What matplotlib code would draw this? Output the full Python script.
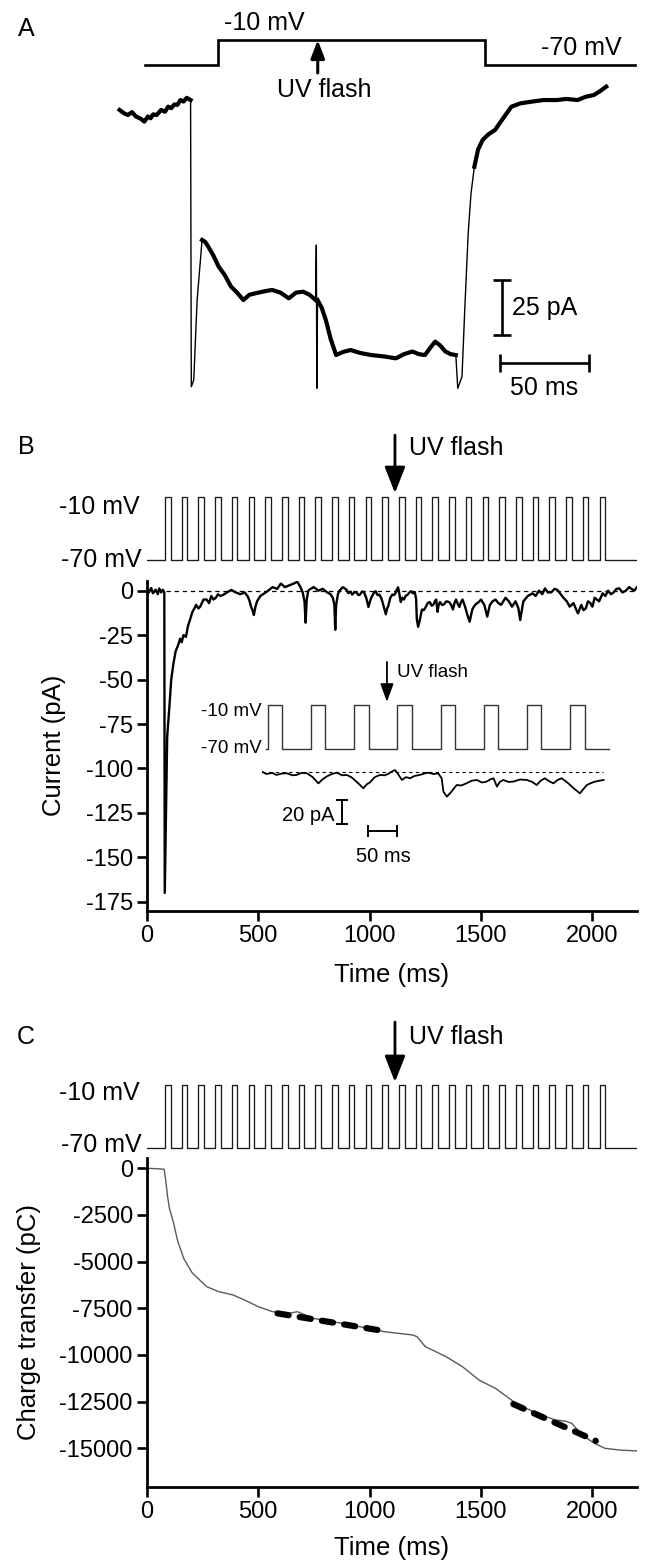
import numpy as np
import matplotlib
matplotlib.use("Agg")
import matplotlib.pyplot as plt

plt.rcParams['font.family'] = ['Liberation Sans', 'DejaVu Sans']

# ---------------- DATA ----------------
# Panel A : single depolarising step, current trace (ms, pA)
A_STEP_T = [14.5, 56.0, 207.2, 292.0]      # start, step up, step down, end (ms)
V_HOLD, V_STEP = -70, -10                   # mV
A_FLASH_T = 112.2
A_TRACE = [(0, 0), (2.5, -1.5), (4.7, -2.3), (7, -1), (9.3, -3), (12, -4), (14, -5.3), (16, -3),
           (17.5, -3.8), (19, -2), (21, -2.3), (23.5, 0), (25.7, -0.8), (27.5, 1.5), (29.2, 0.8),
           (31, 2.5), (32.7, 2.3), (34.5, 4.5), (36.2, 3.8), (38, 5.5), (40.2, 4.5), (40.6, -125.8),
           (42, -122.7), (43.9, -86.4), (46.7, -59.1), (48.5, -60), (50.2, -62.1), (53, -66),
           (56.1, -71.2), (59.5, -75), (63.1, -80.3), (66.5, -83), (70.1, -86.4), (73.5, -84),
           (77.1, -83.3), (81.5, -82.5), (86.4, -81.8), (91, -83), (95.8, -85.6), (100, -83),
           (104, -82.6), (107.5, -84), (111, -86.4), (111.4, -61.4), (111.7, -126.5), (112.1, -86.4),
           (114.5, -90), (116.8, -95.5), (119.5, -104), (122.6, -111.4), (126.5, -110), (130.8, -109.1),
           (136.5, -110.5), (142.5, -111.4), (149.5, -112), (156.5, -112.9), (161, -111), (165.8, -109.8),
           (169.5, -111), (172.9, -111.4), (176, -108), (178.7, -105.3), (181.5, -107), (184.5, -109.8),
           (187.5, -111), (190.4, -111.4), (191.5, -126.5), (193.9, -121.2), (195.5, -90), (197.4, -56.1),
           (199, -38), (200.9, -25.8), (203, -18), (205.6, -13.6), (209, -11), (212.6, -9.1), (217, -4),
           (221.9, 1.5), (227, 3), (233.6, 3.8), (240, 4.5), (247.6, 4.5), (253, 5), (259.3, 4.5),
           (264, 6), (268.6, 6.8), (272, 8.5), (275.6, 10.6)]
A_THIN_WINDOWS = [(40.3, 46.0), (111.2, 112.0), (190.9, 200.0)]
A_SCALE_PA, A_SCALE_MS = 25, 50

# Panels B / C : pulse train protocol
PULSE_ONSETS = [82, 157, 232, 307, 382, 457, 532, 607, 682, 757, 832, 907, 982, 1057, 1132,
                1207, 1282, 1357, 1432, 1507, 1582, 1657, 1732, 1807, 1882, 1957, 2032]
PULSE_WIDTH = 25
T_END = 2200
FLASH_T = 1114

# Panel B : current trace (ms, pA)
B_TRACE = [(0, 0.5), (10, -1), (20, 1.5), (28, -1.5), (40, 0.5), (50, -2), (56, 1.3), (65, -1),
           (72, 0.5), (79, -1), (81, -170), (92, -82), (102, -65), (110, -50), (120, -41), (130, -34),
           (140, -31), (150, -27), (157, -29), (165, -25), (176, -26), (185, -20), (194, -16.5),
           (205, -12), (214, -10), (222, -8), (232, -10), (240, -9), (255, -5), (269, -5), (280, -7),
           (290, -3), (300, -5), (310, -4), (320, -2), (330, -3), (343, -2.4), (360, -1), (380, 0.4),
           (400, -1), (420, -2), (440, -1), (454, -3.4), (462, -6), (468, -9), (475, -11), (481, -13.7),
           (488, -9), (495, -6), (510, -3), (528, -1.5), (545, 0), (565, 2), (585, 1), (602, 4),
           (620, 2), (640, 3), (660, 4), (676, 5), (690, 2), (700, -1), (708, -6), (713, -18),
           (718, -5), (725, 0), (735, 1), (750, 2), (770, 0), (790, 1), (810, -1), (825, -2),
           (835, -4), (842, -8), (846, -22), (850, -8), (858, -2), (865, 0), (880, 2),
           (897, 0.5), (905, -1.4), (915, -0.5), (922, -2.2), (932, -1), (940, -0.8), (950, -2.5),
           (957, -2.2), (966, -0.5), (975, -0.8), (985, -4), (995, -9.2), (1002, -6), (1009, -3.6),
           (1018, -1.5), (1027, -0.3), (1036, -2.5), (1044, -2.2), (1052, -4), (1058, -6.4),
           (1066, -10), (1073, -13.3), (1079, -10), (1084, -8.6), (1093, -4), (1102, -2.2),
           (1110, -2.5), (1116, -1.4), (1122, 0.5), (1128, 1.9), (1134, -2), (1140, -6.4),
           (1147, -4), (1154, -5), (1162, -3), (1171, -2.2), (1179, -1), (1186, -0.3), (1195, -1.5),
           (1203, -0.8), (1209, -5), (1212, -16.1), (1218, -20.3), (1226, -16.1), (1235, -10.6),
           (1243, -11), (1252, -9.2), (1261, -7), (1270, -6.4), (1279, -8.5), (1287, -7.8),
           (1293, -6), (1299, -5), (1305, -11.9), (1310, -8), (1316, -6.4), (1325, -8), (1333, -7.8),
           (1345, -6), (1357, -6.4), (1366, -8), (1374, -10.6), (1381, -7), (1388, -5), (1396, -7.5),
           (1403, -9.2), (1410, -6.5), (1417, -5), (1423, -7), (1429, -9.2), (1438, -13.3),
           (1449, -17.5), (1455, -14), (1461, -10.6), (1468, -9), (1475, -7.8), (1483, -7),
           (1490, -6.4), (1500, -5), (1515, -8), (1528, -14.6), (1540, -8), (1552, -6), (1565, -5),
           (1578, -7), (1590, -8), (1610, -4), (1625, -6), (1639, -9), (1655, -6), (1668, -10),
           (1676, -16.5), (1690, -6), (1710, -3), (1731, -1.5), (1745, -3), (1760, 0), (1775, -2),
           (1787, 1.3), (1800, -1), (1815, -1), (1830, 1), (1843, 0.4), (1858, -2), (1870, -4),
           (1885, -6), (1898, -9), (1915, -7), (1925, -10), (1935, -12.8), (1950, -8), (1960, -11),
           (1970, -10), (1980, -6), (1991, -7), (2000, -9), (2010, -4), (2020, -5), (2030, -6),
           (2046, -1.5), (2058, -3), (2070, 0), (2083, -2), (2095, -1), (2108, 1), (2120, 1.3),
           (2135, -1), (2150, 0), (2165, 2), (2175, 1), (2188, 0), (2200, 2)]
B_YTICKS = [0, -25, -50, -75, -100, -125, -150, -175]
X_TICKS = [0, 500, 1000, 1500, 2000]
INSET_WINDOW = (904, 1499)
INSET_TRACE_WINDOW = (897, 1490)
INSET_SCALE_PA, INSET_SCALE_MS = 20, 50

# Panel C : charge transfer (ms, pC)
C_T = [0, 40, 78, 85, 93, 102, 120, 139, 167, 204, 269, 324, 389, 454, 500, 565, 639, 676, 750,
       917, 1065, 1194, 1213, 1250, 1343, 1417, 1491, 1565, 1657, 1750, 1833, 1880, 1907, 1954,
       2009, 2056, 2120, 2200]
C_Q = [0, -20, -50, -600, -1450, -2150, -2900, -3900, -4850, -5600, -6340, -6610, -6790, -7140,
       -7410, -7680, -7770, -7680, -8040, -8390, -8750, -8930, -9020, -9550, -10090, -10630,
       -11340, -11790, -12590, -13130, -13480, -13550, -13660, -14290, -14730, -15000, -15090,
       -15140]
FIT1_T, FIT1_Q = [587, 1056], [-7770, -8700]
FIT2_T, FIT2_Q = [1645, 2015], [-12630, -14600]
C_YTICKS = [0, -2500, -5000, -7500, -10000, -12500, -15000]

# ---------------- FIGURE ----------------
W, H = 649, 1563
fig = plt.figure(figsize=(W / 100, H / 100), dpi=100)


def px_axes(l, t, r, b):
    ax = fig.add_axes([l / W, 1 - b / H, (r - l) / W, (b - t) / H])
    ax.patch.set_alpha(0)
    return ax


def ftext(x, y, s, **kw):
    kw.setdefault('ha', 'center')
    kw.setdefault('va', 'center')
    fig.text(x / W, 1 - y / H, s, **kw)


def pulse_xy(onsets, width, t0, t1, vh, vs):
    xs, ys = [t0], [vh]
    for on in onsets:
        if on < t0 or on + width > t1:
            continue
        xs += [on, on, on + width, on + width]
        ys += [vh, vs, vs, vh]
    xs.append(t1)
    ys.append(vh)
    return xs, ys


def arrow(ax, x, y_tip, y_tail, lw, hl, hw):
    ax.annotate('', xy=(x, y_tip), xytext=(x, y_tail), annotation_clip=False,
                arrowprops=dict(arrowstyle=f'-|>,head_length={hl},head_width={hw}',
                                mutation_scale=1, lw=lw, color='black', shrinkA=0, shrinkB=0))


FS = 18
LFS = 18.5
TFS = 17
IFS = 13.5

# ---------- Panel A ----------
A_XLIM = (-11.1, 294.7)
axAv = px_axes(100, 15, 640, 85)
axAv.set_xlim(*A_XLIM)
axAv.set_ylim(-118, 50)
axAv.axis('off')
vx = [A_STEP_T[0], A_STEP_T[1], A_STEP_T[1], A_STEP_T[2], A_STEP_T[2], A_STEP_T[3]]
vy = [V_HOLD, V_HOLD, V_STEP, V_STEP, V_HOLD, V_HOLD]
axAv.plot(vx, vy, color='black', lw=1.9, solid_joinstyle='miter')
arrow(axAv, A_FLASH_T, V_STEP, -89.2, 2.2, 11, 4.2)

axA = px_axes(100, 60, 640, 405)
axA.set_xlim(*A_XLIM)
axA.set_ylim(-134.1, 22.7)
axA.axis('off')
at = np.array([p[0] for p in A_TRACE])
ai = np.array([p[1] for p in A_TRACE])
axA.plot(at, ai, color='black', lw=1.0)
thin = np.zeros(len(at), bool)
for lo, hi in A_THIN_WINDOWS:
    thin |= (at > lo) & (at < hi)
axA.plot(at, np.where(thin, np.nan, ai), color='black', lw=3.0, solid_joinstyle='round')
# scale bars
axA.errorbar(216.5, -89.8, yerr=A_SCALE_PA / 2, fmt='none', ecolor='black',
             elinewidth=1.9, capsize=6.5, capthick=1.9)
axA.errorbar(215.6 + A_SCALE_MS / 2, -115, xerr=A_SCALE_MS / 2, fmt='none', ecolor='black',
             elinewidth=1.9, capsize=6.5, capthick=1.9)

ftext(26, 29, 'A', fontsize=FS)
ftext(264, 23, '-10 mV', fontsize=FS)
ftext(581.5, 48, '-70 mV', fontsize=FS)
ftext(324.5, 90, 'UV flash', fontsize=FS)
ftext(511.6, 308, '25 pA', fontsize=FS, ha='left')
ftext(544, 388, '50 ms', fontsize=FS)


# ---------- Panels B and C common ----------
def style_main(ax, yticks, ylabel, ylabel_x_px, xlabel_y_px, top_px, bot_px):
    for s in ['top', 'right']:
        ax.spines[s].set_visible(False)
    for s in ['left', 'bottom']:
        ax.spines[s].set_linewidth(2.0)
    ax.set_xlim(0, T_END)
    ax.set_xticks(X_TICKS)
    ax.set_yticks(yticks)
    ax.set_yticklabels([f'{v}' for v in yticks])
    ax.tick_params(axis='both', direction='out', length=7, width=1.9, labelsize=TFS, pad=3)
    ax.set_ylabel(ylabel, fontsize=LFS, va='center')
    ax.set_xlabel('Time (ms)', fontsize=LFS, va='center')
    ax.yaxis.set_label_coords((ylabel_x_px - 146.7) / (637 - 146.7), 0.5)
    ax.xaxis.set_label_coords(0.5, -(xlabel_y_px - bot_px) / (bot_px - top_px))


def pulse_panel(top, flash_tail, flash_tip):
    ax = px_axes(146.7, top, 637, top + 95)
    ax.set_xlim(0, T_END)
    ax.set_ylim(-84.4, 6.6)
    ax.axis('off')
    px_, py_ = pulse_xy(PULSE_ONSETS, PULSE_WIDTH, 0, T_END, V_HOLD, V_STEP)
    ax.plot(px_, py_, color='#1a1a1a', lw=0.95)
    arrow(ax, FLASH_T, flash_tip, flash_tail, 2.0, 16, 6.3)
    return ax


# ---------- Panel B ----------
pulse_panel(480, 49.6, -5.9)
ftext(26, 447.5, 'B', fontsize=FS)
ftext(408.7, 448, 'UV flash', fontsize=FS, ha='left')
ftext(140, 507, '-10 mV', fontsize=FS, ha='right')
ftext(142, 560, '-70 mV', fontsize=FS, ha='right')

axB = px_axes(146.7, 580.7, 637, 910.7)
axB.set_ylim(-180, 5.6)
bt = np.array([p[0] for p in B_TRACE])
bi = np.array([p[1] for p in B_TRACE])
axB.plot(bt, bi, color='black', lw=1.7, solid_joinstyle='round')
axB.plot([85, T_END], [0, 0], color='black', lw=0.9, dashes=(3.5, 3))
style_main(axB, B_YTICKS, 'Current (pA)', 53.6, 975, 580.7, 910.7)

# inset
INS_XLIM = (897.1, 1504.7)
axIv = px_axes(262, 695, 612, 760)
axIv.set_xlim(*INS_XLIM)
axIv.set_ylim(-85, 3.6)
axIv.axis('off')
ix, iy = pulse_xy(PULSE_ONSETS, PULSE_WIDTH, INSET_WINDOW[0], INSET_WINDOW[1], V_HOLD, V_STEP)
axIv.plot(ix, iy, color='#333333', lw=1.0)
arrow(axIv, FLASH_T, -5.9, 48.6, 1.3, 11, 4.0)

axIc = px_axes(262, 760, 612, 840)
axIc.set_xlim(*INS_XLIM)
axIc.set_ylim(-56.4, 10.25)
axIc.axis('off')
m = (bt >= INSET_TRACE_WINDOW[0]) & (bt <= INSET_TRACE_WINDOW[1])
axIc.plot(bt[m], bi[m], color='black', lw=1.3)
axIc.plot([897, 1489], [0, 0], color='black', lw=0.8, dashes=(3, 3))
axIc.errorbar(1036, -32.9, yerr=INSET_SCALE_PA / 2, fmt='none', ecolor='black',
              elinewidth=1.4, capsize=4.2, capthick=1.4)
axIc.errorbar(1081 + INSET_SCALE_MS / 2, -48.75, xerr=INSET_SCALE_MS / 2, fmt='none',
              ecolor='black', elinewidth=1.4, capsize=4.2, capthick=1.4)
ftext(397, 673, 'UV flash', fontsize=IFS, ha='left')
ftext(262, 711.7, '-10 mV', fontsize=IFS, ha='right')
ftext(262, 748.3, '-70 mV', fontsize=IFS, ha='right')
ftext(334, 815, '20 pA', fontsize=IFS + 1, ha='right')
ftext(383.5, 856, '50 ms', fontsize=IFS + 1)

# ---------- Panel C ----------
pulse_panel(1067.7, 50.3, -7.1)
ftext(26, 1037.5, 'C', fontsize=FS)
ftext(408.7, 1037, 'UV flash', fontsize=FS, ha='left')
ftext(140, 1093, '-10 mV', fontsize=FS, ha='right')
ftext(142, 1145, '-70 mV', fontsize=FS, ha='right')

axC = px_axes(146.7, 1158.3, 637, 1486.7)
axC.set_ylim(-17056, 536)
axC.plot(C_T, C_Q, color='#5a5a5a', lw=1.0)
axC.plot(FIT1_T, FIT1_Q, color='black', lw=4.5, dashes=(1.8, 1.8), dash_capstyle='round')
axC.plot(FIT2_T, FIT2_Q, color='black', lw=4.5, dashes=(1.8, 1.8), dash_capstyle='round')
style_main(axC, C_YTICKS, 'Charge transfer (pC)', 28.9, 1548, 1158.3, 1486.7)

fig.savefig('out.png', dpi=100)
